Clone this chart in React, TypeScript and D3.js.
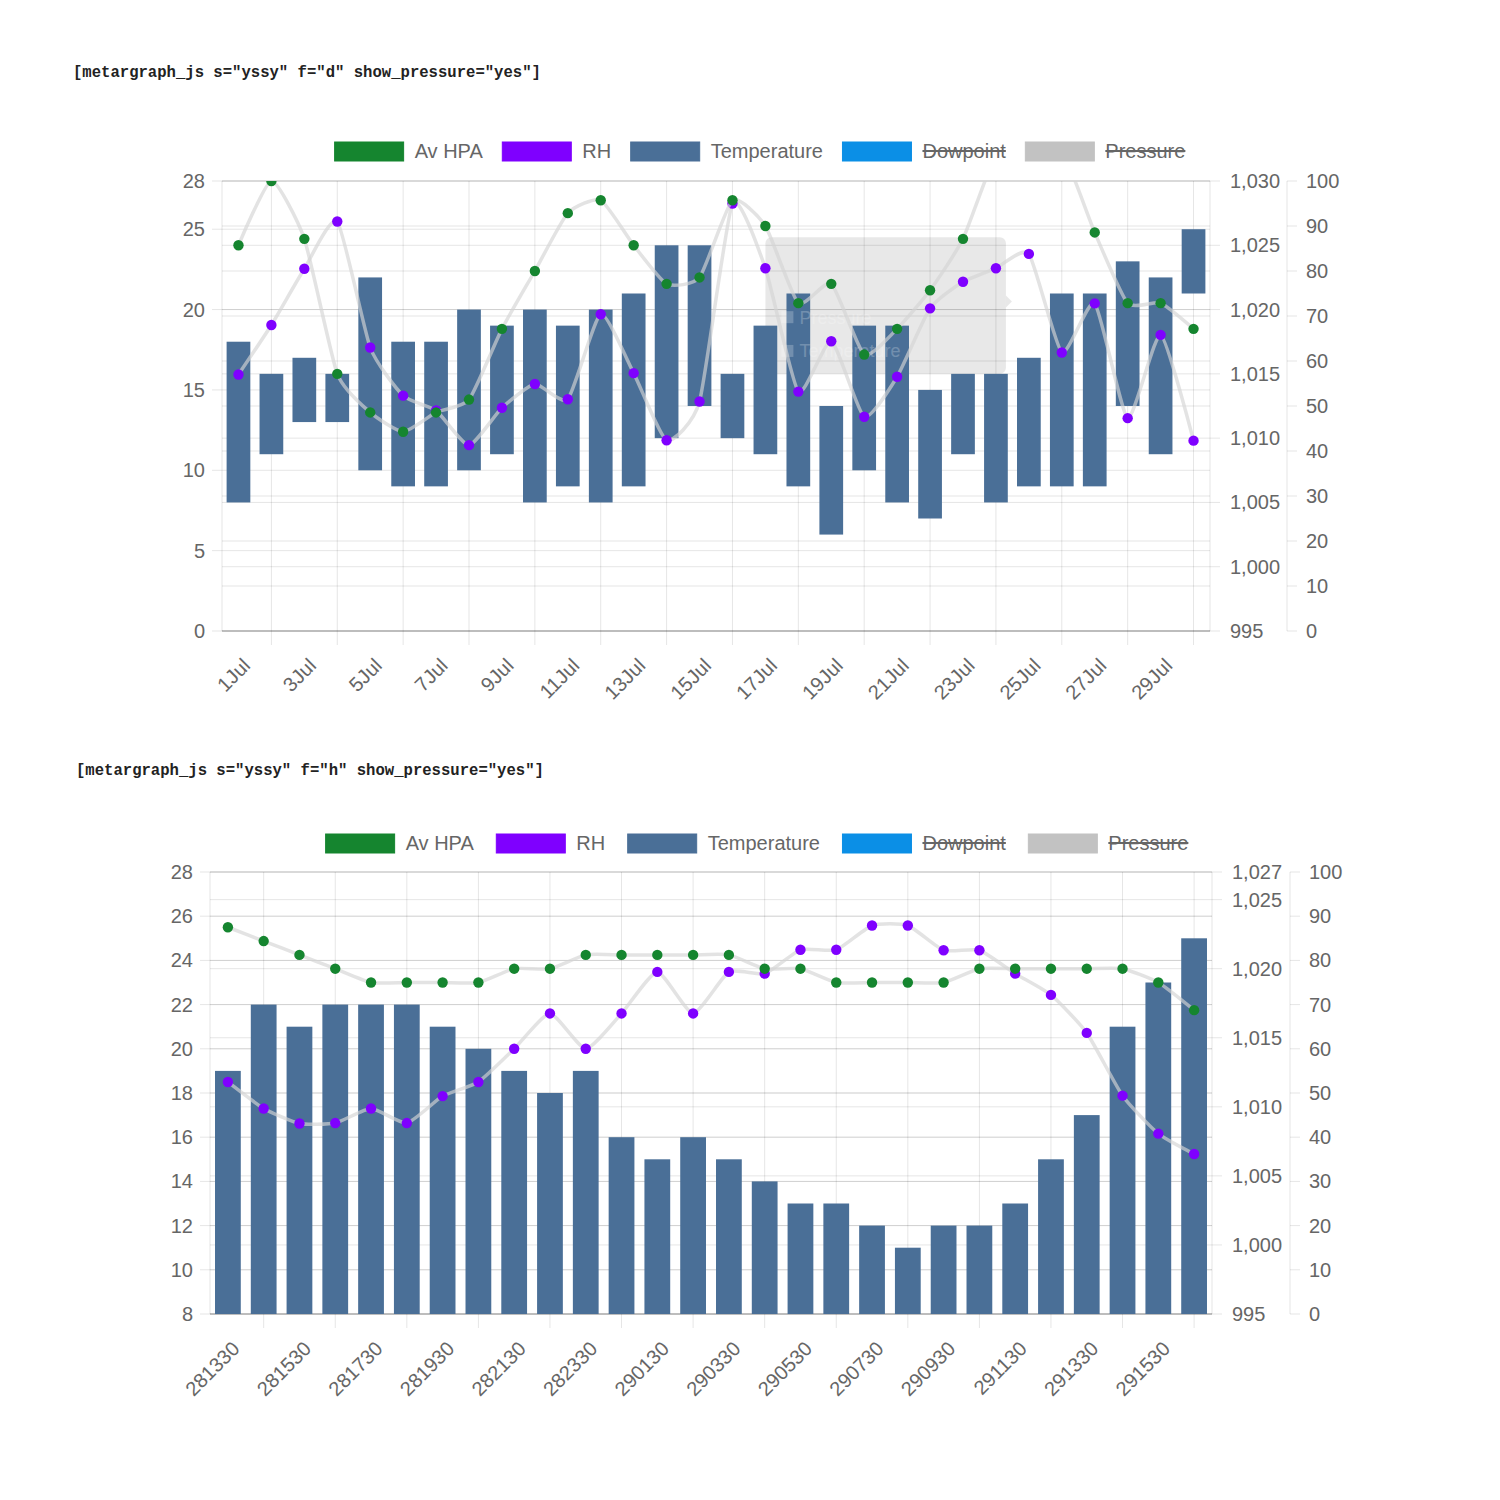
import React from "react";
import * as d3 from "d3";

// daily chart (f="d")
const dailyLabels = [
  "1Jul", "2Jul", "3Jul", "4Jul", "5Jul", "6Jul", "7Jul", "8Jul", "9Jul", "10Jul",
  "11Jul", "12Jul", "13Jul", "14Jul", "15Jul", "16Jul", "17Jul", "18Jul", "19Jul", "20Jul",
  "21Jul", "22Jul", "23Jul", "24Jul", "25Jul", "26Jul", "27Jul", "28Jul", "29Jul", "30Jul",
];
const dailyTempLow = [8, 11, 13, 13, 10, 9, 9, 10, 11, 8, 9, 8, 9, 12, 14, 12, 11, 9, 6, 10, 8, 7, 11, 8, 9, 9, 9, 14, 11, 21];
const dailyTempHigh = [18, 16, 17, 16, 22, 18, 18, 20, 19, 20, 19, 20, 21, 24, 24, 16, 19, 21, 14, 19, 19, 15, 16, 16, 17, 21, 21, 23, 22, 25];
const dailyAvHpa = [
  1025, 1030, 1025.5, 1015, 1012, 1010.5, 1012, 1013, 1018.5, 1023,
  1027.5, 1028.5, 1025, 1022, 1022.5, 1028.5, 1026.5, 1020.5, 1022, 1016.5,
  1018.5, 1021.5, 1025.5, 1032, 1033, 1032.4, 1026, 1020.5, 1020.5, 1018.5,
];
const dailyRh = [
  57, 68, 80.5, 91, 63, 52.3, 49, 41.3, 49.6, 54.9,
  51.5, 70.4, 57.3, 42.4, 51, 95, 80.6, 53.2, 64.4, 47.6,
  56.5, 71.7, 77.6, 80.6, 83.8, 61.9, 72.8, 47.3, 65.8, 42.3,
];

// hourly chart (f="h")
const hourlyLabels = [
  "281330", "281430", "281530", "281630", "281730", "281830", "281930", "282030", "282130", "282230",
  "282330", "290030", "290130", "290230", "290330", "290430", "290530", "290630", "290730", "290830",
  "290930", "291030", "291130", "291230", "291330", "291430", "291530", "291630",
];
const hourlyTemp = [19, 22, 21, 22, 22, 22, 21, 20, 19, 18, 19, 16, 15, 16, 15, 14, 13, 13, 12, 11, 12, 12, 13, 15, 17, 21, 23, 25];
const hourlyAvHpa = [
  1023, 1022, 1021, 1020, 1019, 1019, 1019, 1019, 1020, 1020,
  1021, 1021, 1021, 1021, 1021, 1020, 1020, 1019, 1019, 1019,
  1019, 1020, 1020, 1020, 1020, 1020, 1019, 1017,
];
const hourlyRh = [
  52.5, 46.5, 43.1, 43.2, 46.5, 43.2, 49.3, 52.5, 60, 68,
  60, 68, 77.4, 68, 77.4, 77, 82.4, 82.4, 87.9, 87.9,
  82.3, 82.3, 77, 72.2, 63.6, 49.4, 40.8, 36.2,
];

// axes
const dailyTempTicks = [0, 5, 10, 15, 20, 25, 28];
const dailyPressureTicks = [995, 1000, 1005, 1010, 1015, 1020, 1025, 1030];
const hourlyTempTicks = [8, 10, 12, 14, 16, 18, 20, 22, 24, 26, 28];
const hourlyPressureTicks = [995, 1000, 1005, 1010, 1015, 1020, 1025, 1027];
const rhTicks = [0, 10, 20, 30, 40, 50, 60, 70, 80, 90, 100];

// legend
const legendNames = ["Av HPA", "RH", "Temperature", "Dowpoint", "Pressure"];
const legendColors = ["#15852f", "#7f00ff", "#4a6f97", "#0b8fe6", "#c2c2c2"];
const legendHidden = [false, false, false, true, true];

const FONT = "Liberation Sans, Arial, Helvetica, sans-serif";
const TXT = "#666";
const GRID = "rgba(0,0,0,0.1)";
const LINE = "rgba(212,212,212,0.65)";

let measureCtx: CanvasRenderingContext2D | null = null;
function textWidth(s: string, size: number) {
  if (!measureCtx) measureCtx = document.createElement("canvas").getContext("2d");
  if (!measureCtx) return s.length * size * 0.55;
  measureCtx.font = `${size}px ${FONT}`;
  return measureCtx.measureText(s).width;
}

type Frame = {
  left: number;
  right: number;
  top: number;
  bottom: number;
  rhX: number;
  legendY: number;
  legendCx: number;
  legendGap: number;
  headerX: number;
  headerY: number;
  header: string;
};

type Props = {
  id: string;
  frame: Frame;
  labels: string[];
  low: number[] | null;
  high: number[];
  avHpa: number[];
  rh: number[];
  tempTicks: number[];
  pressureTicks: number[];
  tooltip?: boolean;
};

function MetarChart({ id, frame, labels, low, high, avHpa, rh, tempTicks, pressureTicks, tooltip }: Props) {
  const { left, right, top, bottom, rhX } = frame;
  const x = d3.scaleBand<string>().domain(labels).range([left, right]);
  const cx = (i: number) => (x(labels[i]) as number) + x.bandwidth() / 2;
  const yT = d3
    .scaleLinear()
    .domain([tempTicks[0], tempTicks[tempTicks.length - 1]])
    .range([bottom, top]);
  const yP = d3
    .scaleLinear()
    .domain([pressureTicks[0], pressureTicks[pressureTicks.length - 1]])
    .range([bottom, top]);
  const yR = d3.scaleLinear().domain([0, 100]).range([bottom, top]);
  const fmt = d3.format(",");
  const barW = x.bandwidth() * 0.72;

  const curve = d3.curveCardinal.tension(0.45);
  const pLine = d3
    .line<number>()
    .x((_, i) => cx(i))
    .y((d) => yP(d))
    .curve(curve);
  const rLine = d3
    .line<number>()
    .x((_, i) => cx(i))
    .y((d) => yR(d))
    .curve(curve);

  // legend layout
  const fs = 20;
  const boxW = 69;
  const items = legendNames.map((n) => boxW + 11 + textWidth(n, fs));
  const gap = frame.legendGap;
  const total = d3.sum(items) + gap * (items.length - 1);
  let lx = frame.legendCx - total / 2;
  const legendX = items.map((w) => {
    const v = lx;
    lx += w + gap;
    return v;
  });

  return (
    <g>
      <text
        x={frame.headerX}
        y={frame.headerY}
        fontFamily="Liberation Mono, DejaVu Sans Mono, monospace"
        fontWeight="bold"
        fontSize={15.6}
        fill="#222"
      >
        {frame.header}
      </text>

      {/* legend */}
      {legendNames.map((n, i) => {
        const tw = textWidth(n, fs);
        const tx = legendX[i] + boxW + 11;
        return (
          <g key={n}>
            <rect
              x={legendX[i]}
              y={frame.legendY - 9}
              width={boxW}
              height={19}
              fill={legendColors[i]}
              stroke={legendColors[i]}
            />
            <text x={tx} y={frame.legendY} dominantBaseline="central" fontFamily={FONT} fontSize={fs} fill={TXT}>
              {n}
            </text>
            {legendHidden[i] && (
              <line x1={tx} x2={tx + tw} y1={frame.legendY} y2={frame.legendY} stroke={TXT} strokeWidth={2} />
            )}
          </g>
        );
      })}

      <defs>
        <clipPath id={`clip-${id}`}>
          <rect x={left} y={top} width={right - left} height={bottom - top} />
        </clipPath>
      </defs>

      {/* horizontal grid for each of the three axes */}
      {tempTicks.map((t) => (
        <line key={`gt${t}`} x1={left - 10} x2={right} y1={yT(t)} y2={yT(t)} stroke={GRID} />
      ))}
      {pressureTicks.map((t) => (
        <line key={`gp${t}`} x1={left} x2={right + 10} y1={yP(t)} y2={yP(t)} stroke={GRID} />
      ))}
      {rhTicks.map((t) => (
        <line key={`gr${t}`} x1={left} x2={right} y1={yR(t)} y2={yR(t)} stroke={GRID} />
      ))}
      {rhTicks.map((t) => (
        <line key={`tr${t}`} x1={rhX} x2={rhX + 10} y1={yR(t)} y2={yR(t)} stroke={GRID} />
      ))}
      <line x1={rhX} x2={rhX} y1={top} y2={bottom} stroke={GRID} />

      {/* vertical grid */}
      <line x1={left} x2={left} y1={top} y2={bottom} stroke={GRID} />
      <line x1={right} x2={right} y1={top} y2={bottom} stroke={GRID} />
      {labels.map((l, i) =>
        i % 2 === 1 ? (
          <line key={`v${l}`} x1={cx(i)} x2={cx(i)} y1={top} y2={bottom + 14} stroke={GRID} />
        ) : null
      )}
      <line x1={left} x2={right} y1={bottom} y2={bottom} stroke="rgba(0,0,0,0.25)" />

      {tooltip && (
        <g>
          <rect
            x={cx(16)}
            y={yT(24.5)}
            width={cx(23) + 10 - cx(16)}
            height={yT(16) - yT(24.5)}
            rx={6}
            fill="rgba(0,0,0,0.09)"
          />
          <path
            d={`M${cx(23) + 10},${yT(20.5) - 6}L${cx(23) + 16},${yT(20.5)}L${cx(23) + 10},${yT(20.5) + 6}Z`}
            fill="rgba(0,0,0,0.09)"
          />
        </g>
      )}

      {/* temperature bars */}
      <g clipPath={`url(#clip-${id})`}>
        {high.map((v, i) => {
          const b = low ? low[i] : tempTicks[0];
          return (
            <rect
              key={`b${i}`}
              x={cx(i) - barW / 2}
              y={yT(v)}
              width={barW}
              height={yT(b) - yT(v)}
              fill={legendColors[2]}
            />
          );
        })}
      </g>

      {tooltip && (
        <g opacity={0.22} fontFamily={FONT} fontSize={18} fill="#fff">
          <rect x={cx(16) + 16} y={yT(19.9)} width={12} height={12} fill="#fff" />
          <rect x={cx(16) + 16} y={yT(17.8)} width={12} height={12} fill="#fff" />
          <text x={cx(16) + 34} y={yT(19.5)} dominantBaseline="central">Pressure</text>
          <text x={cx(16) + 34} y={yT(17.4)} dominantBaseline="central">Temperature</text>
        </g>
      )}

      {/* RH then Av HPA lines with points */}
      <g clipPath={`url(#clip-${id})`}>
        <path d={rLine(rh) || ""} fill="none" stroke={LINE} strokeWidth={3.5} />
        {rh.map((v, i) => (
          <circle key={`r${i}`} cx={cx(i)} cy={yR(v)} r={5.2} fill={legendColors[1]} />
        ))}
        <path d={pLine(avHpa) || ""} fill="none" stroke={LINE} strokeWidth={3.5} />
        {avHpa.map((v, i) => (
          <circle key={`p${i}`} cx={cx(i)} cy={yP(v)} r={5.2} fill={legendColors[0]} />
        ))}
      </g>

      {/* axes labels */}
      <g fontFamily={FONT} fontSize={20} fill={TXT}>
        {tempTicks.map((t) => (
          <text key={`lt${t}`} x={left - 17} y={yT(t)} textAnchor="end" dominantBaseline="central">
            {t}
          </text>
        ))}
        {pressureTicks.map((t) => (
          <text key={`lp${t}`} x={right + 20} y={yP(t)} dominantBaseline="central">
            {fmt(t)}
          </text>
        ))}
        {rhTicks.map((t) => (
          <text key={`lr${t}`} x={rhX + 19} y={yR(t)} dominantBaseline="central">
            {t}
          </text>
        ))}
        {labels.map((l, i) =>
          i % 2 === 0 ? (
            <text
              key={`lx${l}`}
              transform={`translate(${cx(i) + 8},${bottom + 31}) rotate(-45)`}
              textAnchor="end"
              dominantBaseline="central"
            >
              {l}
            </text>
          ) : null
        )}
      </g>
    </g>
  );
}

const dailyFrame: Frame = {
  left: 222,
  right: 1210,
  top: 181,
  bottom: 631,
  rhX: 1287,
  legendY: 151,
  legendCx: 760,
  legendGap: 19.5,
  headerX: 73,
  headerY: 77,
  header: '[metargraph_js s="yssy" f="d" show_pressure="yes"]',
};

const hourlyFrame: Frame = {
  left: 210,
  right: 1212,
  top: 872,
  bottom: 1314,
  rhX: 1290,
  legendY: 843,
  legendCx: 757,
  legendGap: 22.5,
  headerX: 76,
  headerY: 775,
  header: '[metargraph_js s="yssy" f="h" show_pressure="yes"]',
};

export default function App() {
  return (
    <svg
      width={1500}
      height={1500}
      style={{ position: "absolute", left: 0, top: 0, background: "#fff" }}
    >
      <rect width={1500} height={1500} fill="#fff" />
      <MetarChart
        id="daily"
        frame={dailyFrame}
        labels={dailyLabels}
        low={dailyTempLow}
        high={dailyTempHigh}
        avHpa={dailyAvHpa}
        rh={dailyRh}
        tempTicks={dailyTempTicks}
        pressureTicks={dailyPressureTicks}
        tooltip
      />
      <MetarChart
        id="hourly"
        frame={hourlyFrame}
        labels={hourlyLabels}
        low={null}
        high={hourlyTemp}
        avHpa={hourlyAvHpa}
        rh={hourlyRh}
        tempTicks={hourlyTempTicks}
        pressureTicks={hourlyPressureTicks}
      />
    </svg>
  );
}
